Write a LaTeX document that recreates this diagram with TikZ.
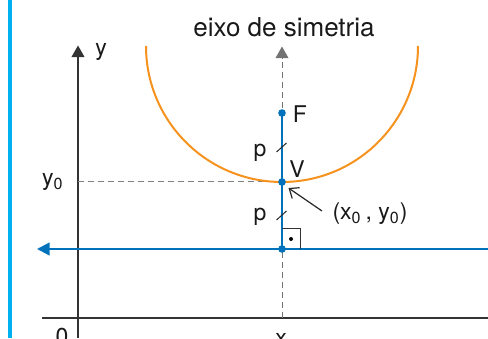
\documentclass[tikz,border=0pt]{standalone}
\usepackage{fontspec}
\setmainfont{TeX Gyre Heros}
\usetikzlibrary{arrows.meta}

\definecolor{parblue}{RGB}{0,114,188}
\definecolor{parorange}{RGB}{246,146,30}
\definecolor{barcyan}{RGB}{0,176,240}

\begin{document}
\begin{tikzpicture}[x=0.5pt, y=0.5pt,
  axisline/.style={draw=black!80, line width=0.7pt},
  dashline/.style={draw=black!50, line width=0.5pt, dash pattern=on 3pt off 2pt},
  blueline/.style={draw=parblue, line width=1.1pt},
  bluedot/.style={shape=circle, fill=parblue, inner sep=0pt, minimum size=3.8pt},
  lbl/.style={font=\fontsize{11.5}{13}\selectfont, inner sep=0pt, text=black!90},
  ticky/.style={draw=black!85, line width=0.5pt},
]

\useasboundingbox (0,0) rectangle (488,338);

%POINTS
\coordinate (O) at (78,20);
\coordinate (F) at (282,225);
\coordinate (V) at (282,156);
\coordinate (D) at (282,89);
\coordinate (Y0) at (78,156);
\coordinate (Xaxis) at (282,20);

%SIDE BAR
\draw[barcyan, line width=1.6pt] (10,0) -- (10,338);

%AXES
\draw[axisline] (42,20) -- (488,20);
\draw[axisline, -{Triangle[length=5.8pt, width=6.4pt]}] (78,0) -- (78,292.5);
\node[lbl] (ylab) at (101,286) {y};
\node[lbl, anchor=east] (y0lab) at (64,156) {y\textsubscript{0}};
\node[lbl, anchor=north] (olab) at (62,10) {0};
\node[lbl, anchor=north] (xlab) at (281,5) {x};

%SYMMETRY AXIS
\draw[dashline, -{Triangle[length=5.8pt, width=6.4pt]}, black!55] (Xaxis) -- (282,291.5);
\node[font=\fontsize{13}{15}\selectfont, text=black!90] (title) at (284,311) {eixo de simetria};
\draw[dashline] (Y0) -- (V);

%PARABOLA
\draw[parorange, line width=1pt] (146,292) arc[start angle=180, end angle=360, radius=136];

%DIRECTRIX
\draw[blueline, -{Triangle[length=6.3pt, width=6.3pt]}] (488,89) -- (37,89);

%FOCUS - VERTEX - DIRECTRIX
\draw[blueline] (F) -- (D);
\draw[draw=black!80, line width=0.5pt] (D) ++(0,20) -| ++(18,-20);
\fill[black] (291,99) circle (2);
\draw[ticky] (276.5,186) -- (286.5,195);
\draw[ticky] (276.5,118) -- (286.5,127);
\node[bluedot] (Fdot) at (F) {};
\node[bluedot] (Vdot) at (V) {};
\node[bluedot] (Ddot) at (D) {};

%LABELS
\node[lbl] (flab) at (300,224) {F};
\node[lbl] (vlab) at (297,169) {V};
\node[lbl] (p1) at (260,185) {p};
\node[lbl] (p2) at (260,121) {p};
\node[lbl] (vtx) at (370,124) {(x\textsubscript{0}\,, y\textsubscript{0})};
\draw[draw=black!85, line width=0.6pt, -{Straight Barb[length=4pt, width=6.5pt]}] (322,127) -- (288.5,150);

\end{tikzpicture}
\end{document}
